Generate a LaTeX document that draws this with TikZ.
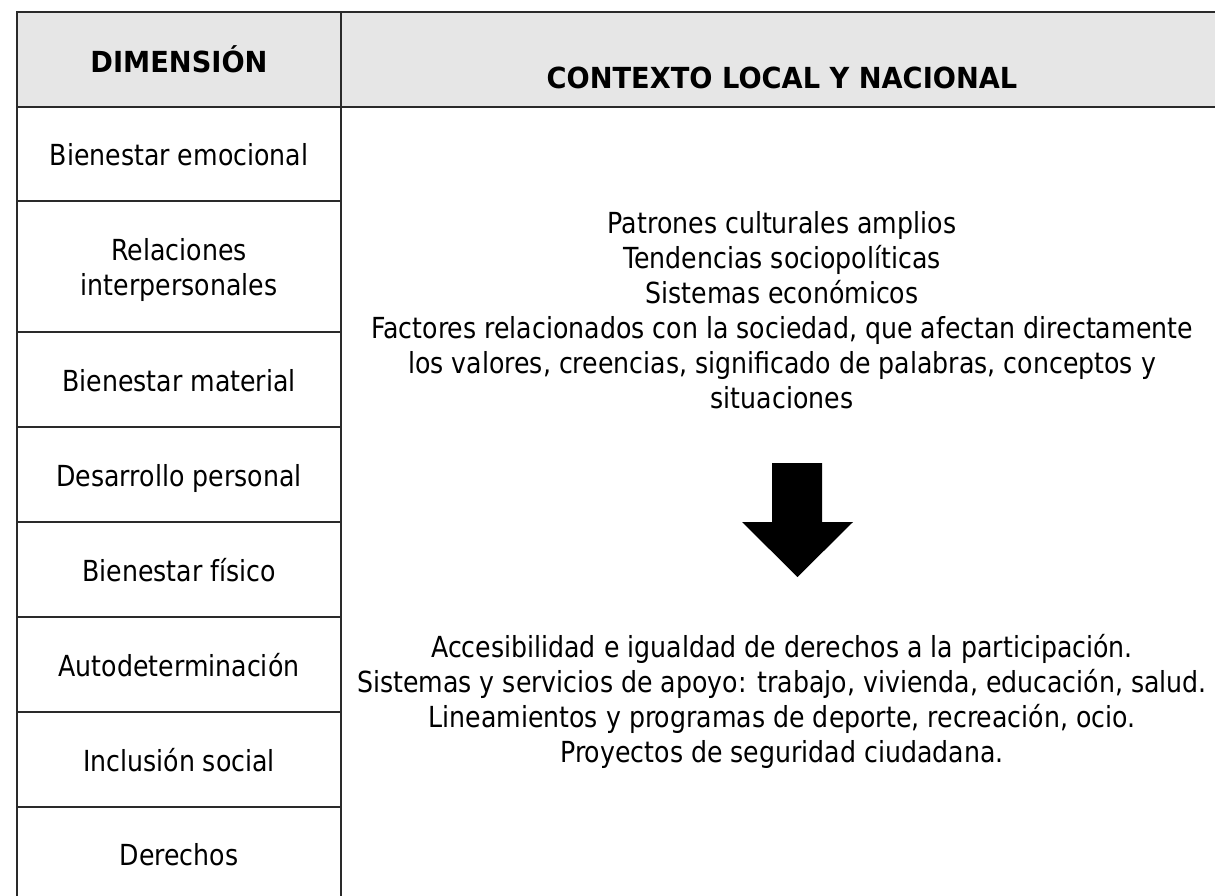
\documentclass[tikz,border=0pt]{standalone}
\usepackage{fontspec}
\setmainfont{DejaVu Sans}[FakeStretch=0.87,BoldFeatures={FakeStretch=0.94}]
\definecolor{headgray}{HTML}{E6E6E6}
\definecolor{rulegray}{HTML}{2A2A2A}
\tikzset{
  rulethick/.style={draw=rulegray, line width=1.5pt},
  rulethin/.style={draw=rulegray, line width=1.3pt},
  celltext/.style={font=\fontsize{21.75}{26.25}\selectfont, inner sep=0pt, align=center},
  headtext/.style={font=\fontsize{21.75}{26.25}\selectfont\bfseries, inner sep=0pt},
  bigarrow/.style={fill=black, draw=none}
}
\begin{document}
\begin{tikzpicture}[x=0.75pt, y=-0.75pt]
\useasboundingbox (0,0) rectangle (1215,896);
% header background
\fill[headgray] (17,12) rectangle (1215,107);
% frame lines
\draw[rulethick] (1215,12) -- (17,12) -- (17,896);
\draw[rulethick] (341,12) -- (341,896);
\draw[rulethick] (17,107) -- (1215,107);
\foreach \yy in {201,332,427,522,617,712,807}
  \draw[rulethin] (17,\yy) -- (341,\yy);
% headers
\node[headtext, anchor=base] (hdim) at (179,72) {DIMENSIÓN};
\node[headtext, anchor=base] (hctx) at (782,88) {CONTEXTO LOCAL Y NACIONAL};
% left column
\node[celltext, anchor=base] (d1) at (179,165.5) {Bienestar emocional};
\node[celltext, anchor=base] (d2a) at (179,260) {Relaciones};
\node[celltext, anchor=base] (d2b) at (179,295) {interpersonales};
\node[celltext, anchor=base] (d3) at (179,391) {Bienestar material};
\node[celltext, anchor=base] (d4) at (179,486) {Desarrollo personal};
\node[celltext, anchor=base] (d5) at (179,581) {Bienestar físico};
\node[celltext, anchor=base] (d6) at (179,676) {Autodeterminación};
\node[celltext, anchor=base] (d7) at (179,771) {Inclusión social};
\node[celltext, anchor=base] (d8) at (179,865) {Derechos};
% right column (anchor base = baseline of the last line)
\node[celltext, anchor=base] (ctxa) at (782,408) {Patrones culturales amplios\\Tendencias sociopolíticas\\Sistemas económicos\\Factores relacionados con la sociedad, que afectan directamente\\los valores, creencias, significado de palabras, conceptos y\\situaciones};
\node[celltext, anchor=base] (ctxb) at (782,762) {Accesibilidad e igualdad de derechos a la participación.\\Sistemas y servicios de apoyo: trabajo, vivienda, educación, salud.\\Lineamientos y programas de deporte, recreación, ocio.\\Proyectos de seguridad ciudadana.};
% arrow
\path[bigarrow] (772,463) -- (822,463) -- (822,522) -- (853,522) -- (797.5,577) -- (742,522) -- (772,522) -- cycle;
\end{tikzpicture}
\end{document}
